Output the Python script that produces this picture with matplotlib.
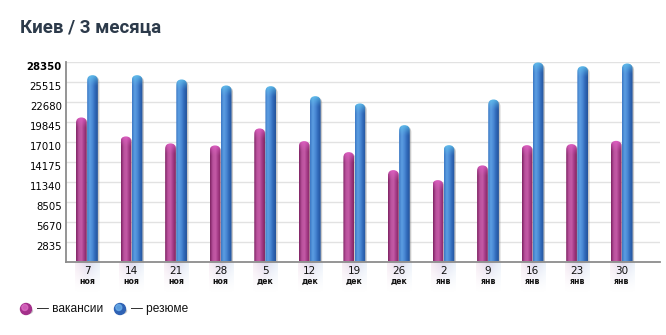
import numpy as np
import matplotlib
matplotlib.use("Agg")
import matplotlib.pyplot as plt
import matplotlib.colors as clr
from matplotlib.patches import FancyBboxPatch
from matplotlib.transforms import ScaledTranslation, blended_transform_factory

days = ["7", "14", "21", "28", "5", "12", "19", "26", "2", "9", "16", "23", "30"]
months = ["ноя"] * 4 + ["дек"] * 4 + ["янв"] * 5
vacancies = [20440, 17750, 16760, 16470, 18880, 17080, 15520, 12970,
             11550, 13640, 16510, 16660, 17120]
resumes = [26440, 26440, 25830, 24980, 24880, 23460, 22430, 19350,
           16510, 22990, 28240, 27710, 28100]
yticks = [2835 * k for k in range(1, 11)]

W, H = 666, 335
fig = plt.figure(figsize=(W / 100, H / 100), dpi=100)
ax = fig.add_axes([66 / W, (H - 261.5) / H, (660 - 66) / W, 199.8 / H])

xmin, xmax = -0.47, 12.86
ymax = 28350
ax.set_xlim(xmin, xmax)
ax.set_ylim(0, ymax)

for s in ["top", "right"]:
    ax.spines[s].set_visible(False)
for s in ["left", "bottom"]:
    ax.spines[s].set_color("#8c8c8c")
    ax.spines[s].set_linewidth(1.3)
    ax.spines[s].set_zorder(5)

ax.set_yticks(yticks)
ax.set_yticklabels([str(t) for t in yticks], fontsize=7.3, family="DejaVu Sans")
ax.tick_params(axis="y", length=0, pad=3)
ax.tick_params(axis="x", length=0, labelbottom=False)
ax.set_xticks([])
ax.yaxis.grid(True, color="#e2e2e2", linewidth=1.0)
ax.set_axisbelow(True)
for lab in ax.get_yticklabels():
    lab.set_transform(lab.get_transform() + ScaledTranslation(0, -4.5 / 100, fig.dpi_scale_trans))
ax.get_yticklabels()[-1].set_fontweight("bold")

# pixel -> data scale, so the rounded tops stay circular
ax_w = (660 - 66)
ax_h = 199.8
xpu = (xmax - xmin) / ax_w
ypu = ymax / ax_h
aspect = ypu / xpu

bw = 0.24
r = bw / 2
offs = 0.125

purple = dict(cols=["#7c2262", "#b9519c", "#c45aa6", "#a23a86", "#83265f"],
              cap="#e35fc8")
blue = dict(cols=["#3c78c4", "#5c9ee2", "#4a88d4", "#2f68b8", "#25549a"],
            cap="#62c6ee")


def draw_bar(x, v, style):
    x0 = x - bw / 2
    ry = r * aspect
    shadow = FancyBboxPatch((x0 + 1.5 * xpu, -ry), bw, v + ry - 1.5 * ypu,
                            boxstyle=f"round,pad=0,rounding_size={r}",
                            mutation_aspect=aspect, facecolor="#7a7a7a",
                            edgecolor="none", alpha=0.4, zorder=2)
    ax.add_patch(shadow)
    patch = FancyBboxPatch((x0, -ry), bw, v + ry,
                           boxstyle=f"round,pad=0,rounding_size={r}",
                           mutation_aspect=aspect, facecolor="none",
                           edgecolor="none", zorder=3)
    ax.add_patch(patch)
    cmap = clr.LinearSegmentedColormap.from_list("g", style["cols"])
    nx, ny = 40, 300
    row = cmap(np.linspace(0, 1, nx))[:, :3]
    img = np.tile(row, (ny, 1, 1))
    # lighter cap near the top of the bar
    cap_rgb = np.array(clr.to_rgb(style["cap"]))
    cap_h = 2.2 * ry / v
    yy = np.linspace(1, 0, ny)
    t = np.clip((yy - (1 - cap_h)) / cap_h, 0, 1) ** 1.3
    img = img * (1 - t[:, None, None] * 0.85) + cap_rgb * t[:, None, None] * 0.85
    im = ax.imshow(img, extent=(x0, x0 + bw, 0, v), aspect="auto",
                   origin="upper", zorder=3, interpolation="bilinear")
    im.set_clip_path(patch)


for i in range(len(days)):
    draw_bar(i - offs, vacancies[i], purple)
    draw_bar(i + offs, resumes[i], blue)

ax.set_xlim(xmin, xmax)
ax.set_ylim(0, ymax)

# tick captions under each week with a soft tinted backdrop
trans = blended_transform_factory(ax.transData, ax.transAxes)
fade = np.linspace(1, 0, 40) ** 1.4
tint = np.zeros((40, 40, 4))
left = np.array(clr.to_rgb("#e7c6df"))
right = np.array(clr.to_rgb("#c4d8f0"))
hx = np.linspace(0, 1, 40)
tint[:, :, :3] = left * (1 - hx[None, :, None]) + right * hx[None, :, None]
side = 1 - np.abs(hx - 0.5) * 1.2
tint[:, :, 3] = fade[:, None] * side[None, :] * 0.8
for i in range(len(days)):
    ax.imshow(tint, extent=(i - 0.27, i + 0.27, -32 * ypu, -1 * ypu),
              aspect="auto", origin="upper", clip_on=False, zorder=1,
              interpolation="bilinear")
    ax.text(i, -9.5 / ax_h, days[i], transform=trans, ha="center",
            va="center", fontsize=7.5, color="#111111")
    ax.text(i, -19.5 / ax_h, months[i], transform=trans, ha="center",
            va="center", fontsize=5.6, color="#111111", fontweight="semibold")
ax.set_xlim(xmin, xmax)
ax.set_ylim(0, ymax)

fig.text(20 / W, 1 - 32 / H, "Киев / 3 месяца", fontsize=13.5,
         fontweight="bold", family="Roboto", color="#2c3a4a",
         va="baseline", ha="left")

# legend
for xp, c, hl, label in [(26, "#a3308a", "#e070c8", "— вакансии"),
                         (120, "#2f62b4", "#6fb4ee", "— резюме")]:
    fig.add_artist(plt.Circle((xp / W + 1.0 / W, 1 - 310 / H - 1.0 / H), 5.5 / W,
                              transform=fig.transFigure, color="#b0b0b0",
                              alpha=0.6))
    fig.add_artist(matplotlib.patches.Ellipse((xp / W, 1 - 309 / H), 11 / W, 11 / H,
                                              transform=fig.transFigure, color=c))
    fig.add_artist(matplotlib.patches.Ellipse((xp / W - 1.2 / W, 1 - 307.5 / H), 6 / W, 6 / H,
                                              transform=fig.transFigure, color=hl,
                                              alpha=0.7))
    fig.text((xp + 11) / W, 1 - 309 / H, label, fontsize=8.6,
             family="Liberation Sans", va="center", ha="left", color="#111111")

fig.savefig("out.png", dpi=100)
